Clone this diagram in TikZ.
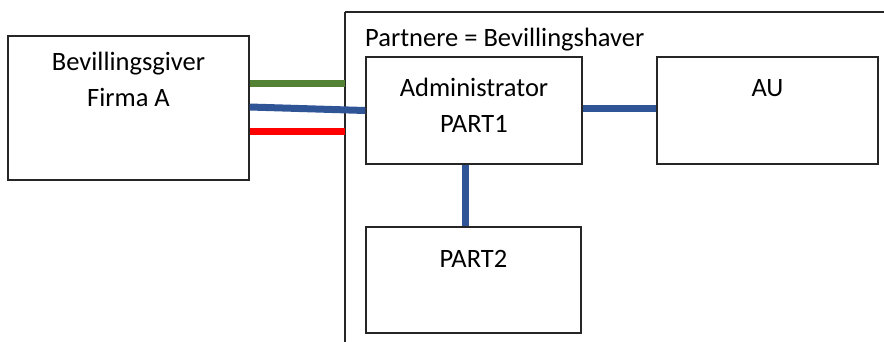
\documentclass[tikz,border=0pt]{standalone}
\usepackage{fontspec}
\setmainfont{Carlito}
\definecolor{linkgreen}{HTML}{548235}
\definecolor{linkblue}{HTML}{2F5597}
\definecolor{linkred}{HTML}{FF0000}
\tikzset{
  box/.style={draw=black!85, line width=1.3pt, rectangle, inner sep=0pt},
  boxtext/.style={font=\fontsize{26.5}{36}\selectfont, align=center, anchor=north, inner sep=0pt},
  link/.style={line width=7pt}
}
\begin{document}
\begin{tikzpicture}[x=1pt,y=-1pt]
      \useasboundingbox (0,0) rectangle (884,341);
      \begin{scope}
        \clip (0,0) rectangle (884,341);
        \draw[box] (345,12) -- (900,12) (345,12) -- (345,360);
      \end{scope}
      \node[font=\fontsize{26.5}{36}\selectfont, anchor=west, inner sep=0pt] (title) at (365,40) {Partnere = Bevillingshaver};
      \draw
        (128.5,108) node[box, minimum width=241pt, minimum height=144pt] (giver){}
        (474,110.5) node[box, minimum width=216pt, minimum height=107pt] (part1){}
        (767.5,110.5) node[box, minimum width=221pt, minimum height=107pt] (au){}
        (473.5,280) node[box, minimum width=215pt, minimum height=106pt] (part2){};
      \node[boxtext] (givertext) at ([yshift=-17pt]giver.north) {Bevillingsgiver\\Firma A};
      \node[boxtext] (part1text) at ([yshift=-22pt]part1.north) {Administrator\\PART1};
      \node[boxtext] (autext) at ([yshift=-23pt]au.north) {AU};
      \node[boxtext] (part2text) at ([yshift=-24pt]part2.north) {PART2};
      \coordinate (greenend) at (345,83);
      \coordinate (redend) at (345,131);
      \begin{scope}[-]
        \draw[link, linkgreen] (giver.east |- greenend) to (greenend);
        \draw[link, linkblue] ([yshift=1pt]giver.east) to (part1.west);
        \draw[link, linkblue] ([yshift=2.5pt]part1.east) to ([yshift=2.5pt]au.west);
        \draw[link, linkred] (giver.east |- redend) to (redend);
        \draw[link, linkblue] ([xshift=-9pt]part1.south) to ([xshift=-8.5pt]part2.north);
      \end{scope}
    \end{tikzpicture}
\end{document}
